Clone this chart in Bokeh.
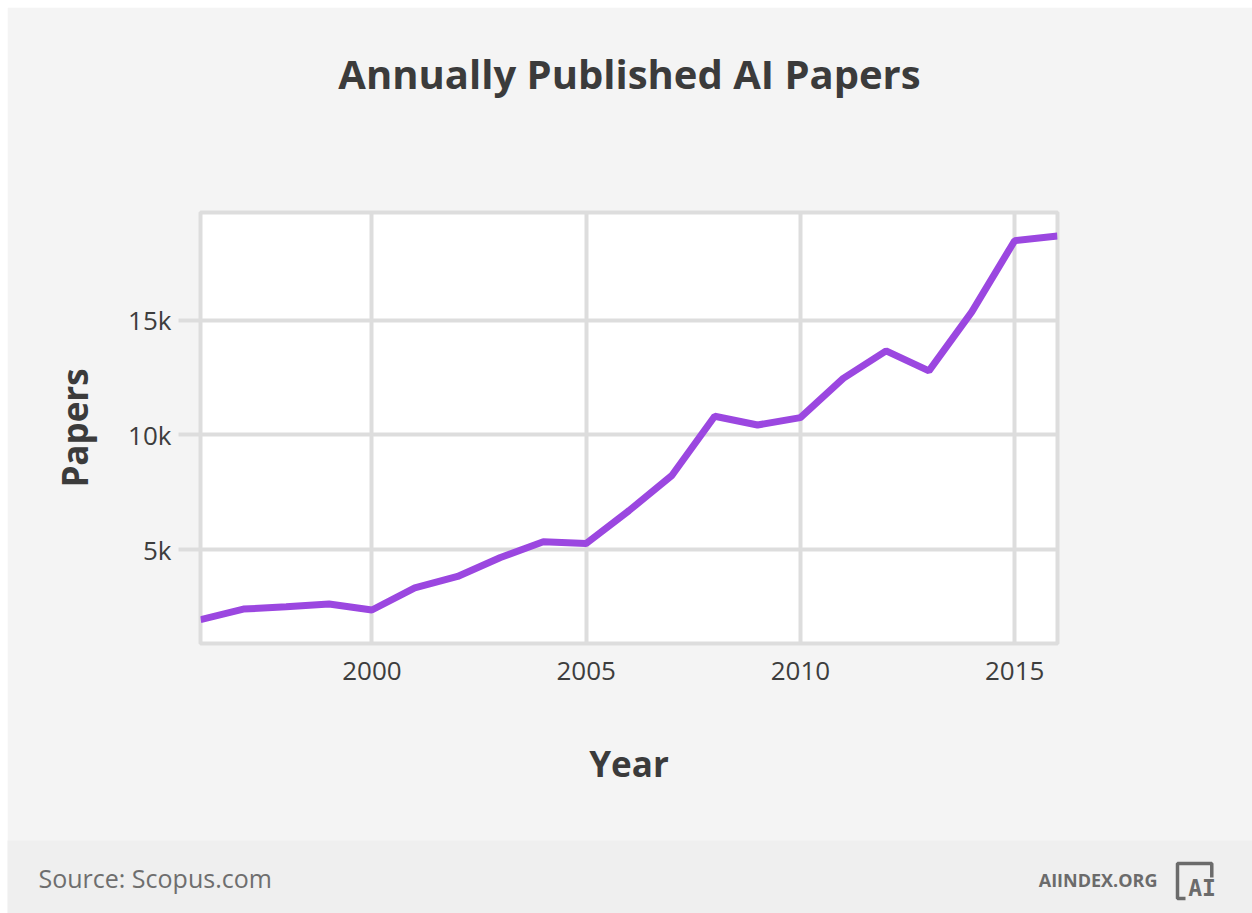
from bokeh.plotting import figure
from bokeh.models import FixedTicker, Range1d, Label
from bokeh.embed import file_html
from bokeh.resources import INLINE

# ---- data ----
years = [1996, 1997, 1998, 1999, 2000, 2001, 2002, 2003, 2004, 2005, 2006,
         2007, 2008, 2009, 2010, 2011, 2012, 2013, 2014, 2015, 2016]
papers = [1950, 2410, 2510, 2630, 2370, 3330, 3830, 4660, 5340, 5270, 6700,
          8230, 10810, 10430, 10750, 12460, 13660, 12790, 15360, 18460, 18670]
x_ticks = [2000, 2005, 2010, 2015]
y_ticks = [5000, 10000, 15000]
y_tick_labels = ["5k", "10k", "15k"]

TITLE = "Annually Published AI Papers"
SOURCE = "Source: Scopus.com"
BRAND = "AIINDEX.ORG"

FONT = "Open Sans"
DARK = "#3b3b3b"
GRID = "#dddddd"
FOOT = "#6b6b6b"
FOOT_BG = "#efefef"

# ---- layout geometry (canvas pixels) ----
W, H = 1245, 906
FL, FR, FT, FB = 193, 1050, 205, 636
X0, X1 = 1996, 2016
Y0, Y1 = 910, 19690


def dx(px):
    return X0 + (px - FL) * (X1 - X0) / (FR - FL)


def dy(py):
    return Y0 + (FB - py) * (Y1 - Y0) / (FB - FT)


p = figure(width=W, height=H, output_backend="svg", toolbar_location=None,
           x_range=Range1d(X0, X1), y_range=Range1d(Y0, Y1),
           min_border_left=FL, min_border_right=W - FR,
           min_border_top=FT, min_border_bottom=H - FB,
           background_fill_color="white", border_fill_color="#f4f4f4",
           margin=(7, 0, 0, 7))

p.outline_line_color = GRID
p.outline_line_width = 4

xt = FixedTicker(ticks=x_ticks)
yt = FixedTicker(ticks=y_ticks)
p.xaxis.ticker = xt
p.yaxis.ticker = yt
p.xgrid.ticker = xt
p.ygrid.ticker = yt
p.yaxis.major_label_overrides = {t: l for t, l in zip(y_ticks, y_tick_labels)}

for g in (p.xgrid, p.ygrid):
    g.grid_line_color = GRID
    g.grid_line_width = 4

for ax in (p.xaxis, p.yaxis):
    ax.axis_line_color = None
    ax.minor_tick_line_color = None
    ax.major_tick_in = 0
    ax.major_label_text_font = FONT
    ax.major_label_text_font_size = "26px"
    ax.major_label_text_color = "#3d3d3d"
    ax.axis_label_text_font = FONT
    ax.axis_label_text_font_size = "35px"
    ax.axis_label_text_font_style = "bold"
    ax.axis_label_text_color = DARK

p.xaxis.major_tick_out = 0
p.xaxis.major_tick_line_color = None
p.xaxis.major_label_standoff = 18
p.xaxis.axis_label = "Year"
p.xaxis.axis_label_standoff = 57

p.yaxis.major_tick_out = 22
p.yaxis.major_tick_line_color = GRID
p.yaxis.major_tick_line_width = 4
p.yaxis.major_label_standoff = 7
p.yaxis.axis_label = "Papers"
p.yaxis.axis_label_standoff = 27

p.line(years, papers, line_color="#9b47e0", line_width=7)


def box(px, py, w, h, fill=None, line=None, lw=0, side="right"):
    """an empty label used only for its background / border box"""
    lab = Label(x=dx(px), y=dy(py), text=" ", text_font_size="1px",
                text_align="left", text_baseline="top",
                padding=dict(left=0, top=0, right=w, bottom=h),
                background_fill_color=fill, background_fill_alpha=1,
                border_line_color=line, border_line_width=lw)
    p.add_layout(lab, side)


# ---- title (side panel, not clipped) ----
p.add_layout(Label(x=dx(622), y=dy(66), text=TITLE, text_font=FONT,
                   text_font_size="40px", text_font_style="bold", text_color=DARK,
                   text_align="center", text_baseline="alphabetic"), "above")

# ---- footer band ----
box(0, 833, W, 73, fill=FOOT_BG, side="above")

p.add_layout(Label(x=dx(31), y=dy(870), text=SOURCE, text_font=FONT,
                   text_font_size="25px", text_color="#6e6e6e",
                   text_align="left", text_baseline="alphabetic"), "below")
p.add_layout(Label(x=dx(1150), y=dy(872.5), text=BRAND, text_font=FONT,
                   text_font_size="18px", text_font_style="bold", text_color=FOOT,
                   text_align="right", text_baseline="alphabetic"), "below")

# ---- logo bracket ----
box(1170, 856, 34, 34, line=FOOT, lw=3.5)
box(1201, 870, 6, 23, fill=FOOT_BG)
box(1178, 887, 29, 6, fill=FOOT_BG)
p.add_layout(Label(x=dx(1194.5), y=dy(880.7), text="AI", text_font="DejaVu Sans Mono",
                   text_font_size="23px", text_font_style="bold", text_color=FOOT,
                   text_align="center", text_baseline="alphabetic"), "right")

open("out.html", "w").write(file_html(p, INLINE))
